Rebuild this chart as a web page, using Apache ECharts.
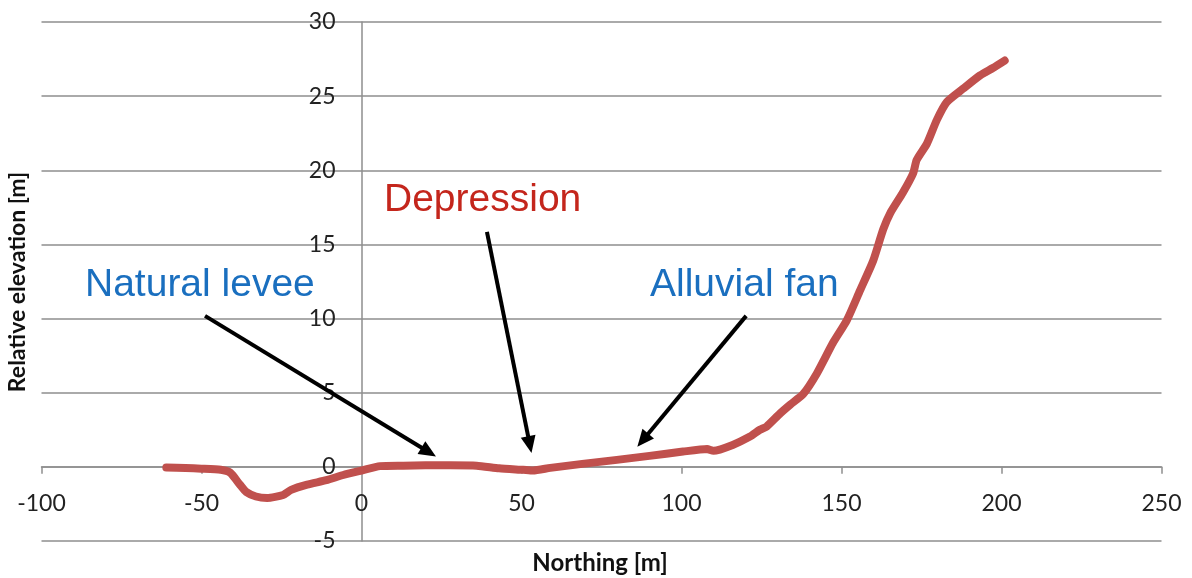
<!DOCTYPE html>
<html>
<head>
<meta charset="utf-8">
<script src="https://cdn.jsdelivr.net/npm/echarts@6/dist/echarts.min.js"></script>
<style>html,body{margin:0;padding:0;background:#fff;}#c{width:1192px;height:578px;}</style>
</head>
<body>
<div id="c"></div>
<script>
// Northing [m]
var northing = [-61, -55, -50, -44, -41, -38, -36, -33, -29.5, -24.5, -22, -17, -11, -5.7, 0, 5.8, 13, 20, 27.7, 36, 43, 50.5, 53.6, 59, 69, 79.8, 90, 100.5, 108, 110, 116, 121.4, 124.5, 126.6, 130.8, 134, 138, 142.3, 147.3, 151.7, 155.8, 159.9, 163, 165.2, 169.2, 172.4, 173.5, 176.7, 179.8, 182.9, 188, 193.3, 197.3, 201];
// Relative elevation [m]
var elevation = [-0.05, -0.08, -0.12, -0.2, -0.4, -1.2, -1.7, -2.0, -2.1, -1.9, -1.55, -1.2, -0.9, -0.55, -0.25, 0.05, 0.08, 0.1, 0.1, 0.08, -0.1, -0.2, -0.25, -0.07, 0.2, 0.47, 0.74, 1.03, 1.2, 1.08, 1.48, 2.04, 2.5, 2.72, 3.6, 4.2, 4.9, 6.3, 8.35, 9.9, 11.9, 13.9, 16.0, 17.1, 18.5, 19.8, 20.7, 21.8, 23.4, 24.6, 25.5, 26.4, 26.9, 27.4];

var xTicks = {min: -100, max: 250, step: 50};
var yTicks = {min: -5, max: 30, step: 5};

// annotation labels and arrow endpoints (data coordinates)
var annoLabels = ['Natural levee', 'Depression', 'Alluvial fan'];
var arrowFrom = [[-48.9, 10.18], [39.2, 15.85], [120.2, 10.18]];
var arrowTo = [[21.0, 1.0], [52.6, 1.5], [87.9, 1.8]];

var points = northing.map(function (x, i) { return [x, elevation[i]]; });
var arrows = arrowFrom.map(function (f, i) { return [{coord: f}, {coord: arrowTo[i]}]; });

var chart = echarts.init(document.getElementById('c'), null, {renderer: 'canvas'});
var gridColor = '#8e8e8e';
var option = {
  animation: false,
  backgroundColor: '#fff',
  grid: {left: 41.5, right: 30.5, top: 22, bottom: 37, containLabel: false, outerBoundsMode: 'none'},
  xAxis: {
    type: 'value', min: xTicks.min, max: xTicks.max, interval: xTicks.step,
    position: 'bottom', offset: 0,
    axisLine: {show: true, onZero: false, lineStyle: {color: gridColor, width: 1.5}},
    axisTick: {show: true, length: 7, lineStyle: {color: gridColor, width: 1.5}},
    axisLabel: {margin: 25, fontFamily: 'Lato', fontSize: 23, color: '#222'},
    splitLine: {show: false}
  },
  yAxis: {
    type: 'value', min: yTicks.min, max: yTicks.max, interval: yTicks.step,
    position: 'left', offset: 0,
    axisLine: {show: true, onZero: false, lineStyle: {color: gridColor, width: 1.5}},
    axisTick: {show: false},
    axisLabel: {margin: 26, fontFamily: 'Lato', fontSize: 23, color: '#222'},
    splitLine: {show: true, lineStyle: {color: gridColor, width: 1.5}}
  },
  series: [{
    type: 'line',
    data: points,
    showSymbol: false,
    smooth: 0.2,
    lineStyle: {color: '#c0504d', width: 8, cap: 'round', join: 'round'},
    itemStyle: {color: '#c0504d'},
    z: 3,
    markLine: {
      silent: true,
      symbol: ['none', 'triangle'],
      symbolSize: [15, 17],
      label: {show: false},
      itemStyle: {color: '#000'},
      lineStyle: {color: '#000', width: 4, type: 'solid'},
      emphasis: {disabled: true},
      data: arrows
    }
  }],
  graphic: [
    {type: 'text', left: 85, top: 266, style: {text: annoLabels[0], fontFamily: 'Liberation Sans', fontSize: 39, fill: '#1a6fbf'}},
    {type: 'text', left: 384, top: 181, style: {text: annoLabels[1], fontFamily: 'Liberation Sans', fontSize: 39, fill: '#c4261c'}},
    {type: 'text', left: 650, top: 266, style: {text: annoLabels[2], fontFamily: 'Liberation Sans', fontSize: 39, fill: '#1a6fbf'}},
    {type: 'text', x: 18, y: 282, rotation: Math.PI / 2, style: {text: 'Relative elevation [m]', fontFamily: 'Lato', fontWeight: 'bold', fontSize: 23, fill: '#111', align: 'center', verticalAlign: 'middle'}},
    {type: 'text', x: 600, y: 563, style: {text: 'Northing [m]', fontFamily: 'Lato', fontWeight: 'bold', fontSize: 24, fill: '#111', align: 'center', verticalAlign: 'middle'}}
  ]
};
chart.setOption(option);
// move both axes (line, ticks and labels) to cross at the origin
var origin = chart.convertToPixel({gridIndex: 0}, [0, 0]);
var corner = chart.convertToPixel({gridIndex: 0}, [xTicks.min, yTicks.min]);
chart.setOption({
  xAxis: {offset: -(corner[1] - origin[1])},
  yAxis: {offset: -(origin[0] - corner[0])}
});
</script>
</body>
</html>
